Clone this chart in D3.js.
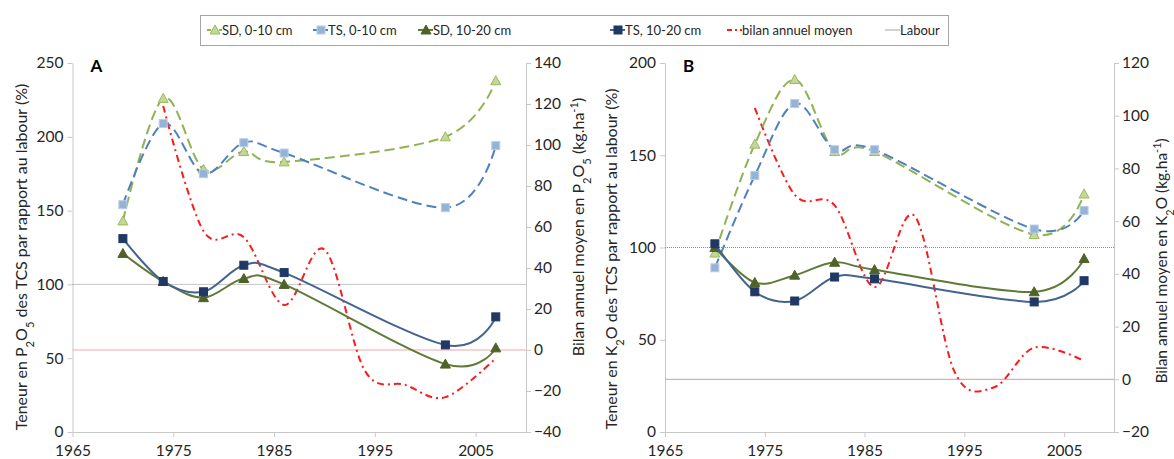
<!DOCTYPE html>
<html>
<head>
<meta charset="utf-8">
<script src="https://cdn.jsdelivr.net/npm/d3@7"></script>
<style>
body { margin: 0; background: #fff; }
svg { font-family: Lato, "Open Sans", sans-serif; }
</style>
</head>
<body>
<div id="chart"></div>
<script>
// annees de prelevement
var years = [1970, 1974, 1978, 1982, 1986, 2002, 2007]
var bilanYears = [1974, 1978, 1982, 1986, 1990, 1994, 1998, 2002, 2007]

// panneau A : P2O5
var A_sd010 = [143, 226, 178, 190, 183, 200, 238]
var A_ts010 = [154, 209, 175, 196, 189, 152, 194]
var A_sd1020 = [121, 102, 91, 104, 100, 46, 57]
var A_ts1020 = [131, 102, 95, 113, 108, 59, 78]
var A_bilan = [119, 58, 55, 22, 49, -10, -17, -23, -4]

// panneau B : K2O
var B_sd010 = [97, 156, 191, 152, 152, 107, 129]
var B_ts010 = [89, 139, 178, 153, 153, 110, 120]
var B_sd1020 = [100, 81, 85, 92, 88, 76, 94]
var B_ts1020 = [102, 76, 71, 84, 83, 70.5, 82]
var B_bilan = [103, 70, 66, 35, 62, 3, -3, 12, 7]

var xTicks = [1965, 1975, 1985, 1995, 2005]
var legendLabels = ['SD, 0-10 cm', 'TS, 0-10 cm', 'SD, 10-20 cm', 'TS, 10-20 cm', 'bilan annuel moyen', 'Labour']

var width = 1174
var height = 459
var axisColor = '#c8c8c8'
var textColor = '#262626'

var svg = d3.select('#chart')
    .append('svg')
    .attr('width', width)
    .attr('height', height)

// styles des series
var styles = [
    {line: '#8fb253', dash: '10,5', w: 2, marker: 'tri', fill: '#c3d69b', stroke: '#9bbb59'},
    {line: '#4f81bd', dash: '10,5', w: 2, marker: 'sq', fill: '#95b3d7', stroke: '#b9cde5'},
    {line: '#5f7a36', dash: null, w: 2, marker: 'tri', fill: '#4f6228', stroke: '#4f6228'},
    {line: '#44638f', dash: null, w: 2, marker: 'sq', fill: '#1f3864', stroke: '#1f3864'}
]
var bilanStyle = {line: '#ff1a1a', dash: '7,4,2,4', w: 2}

var curve = d3.curveCardinal.tension(0)

function drawMarker(g, type, cx, cy, st) {
    if (type === 'sq') {
        g.append('rect')
            .attr('x', cx - 4).attr('y', cy - 4)
            .attr('width', 8).attr('height', 8)
            .attr('fill', st.fill)
            .attr('stroke', st.stroke)
            .attr('stroke-width', 1)
    } else {
        g.append('path')
            .attr('d', 'M' + cx + ',' + (cy - 5) + 'L' + (cx + 5) + ',' + (cy + 4) + 'L' + (cx - 5) + ',' + (cy + 4) + 'Z')
            .attr('fill', st.fill)
            .attr('stroke', st.stroke)
            .attr('stroke-width', 1)
    }
}

// texte avec indices / exposants
function richText(sel, parts, size) {
    parts.forEach(function(p) {
        var t = sel.append('tspan').text(p[0])
        if (p[1] === 'sub') {
            t.attr('baseline-shift', 'sub').attr('font-size', size * 0.7)
        } else if (p[1] === 'sup') {
            t.attr('baseline-shift', 'super').attr('font-size', size * 0.7)
        }
    })
}

function panel(cfg) {
    var x = d3.scaleLinear().domain([1965, 2010]).range([cfg.x0, cfg.x1])
    var y = d3.scaleLinear().domain(cfg.yDom).range([432, 63])
    var y2 = d3.scaleLinear().domain(cfg.y2Dom).range([432, 63])
    var g = svg.append('g')

    // axes
    var ax = g.append('g').attr('transform', 'translate(0,432)')
        .call(d3.axisBottom(x).tickValues(xTicks).tickFormat(d3.format('d')).tickSize(5).tickSizeOuter(0))
    var al = g.append('g').attr('transform', 'translate(' + cfg.x0 + ',0)')
        .call(d3.axisLeft(y).ticks(cfg.yTicks).tickSize(5).tickSizeOuter(0))
    var ar = g.append('g').attr('transform', 'translate(' + cfg.x1 + ',0)')
        .call(d3.axisRight(y2).ticks(cfg.y2Ticks).tickSize(5).tickSizeOuter(0))
    ;[ax, al, ar].forEach(function(a) {
        a.select('.domain').attr('stroke', axisColor)
        a.selectAll('.tick line').attr('stroke', axisColor)
        a.selectAll('.tick text').attr('fill', textColor).attr('font-size', 15.5).attr('font-family', 'Lato, sans-serif')
    })
    ax.selectAll('.tick text').attr('dy', '1.05em')
    al.selectAll('.tick text').attr('x', -9)
    ar.selectAll('.tick text').attr('x', 8)

    // ligne labour (100 %) et zero du bilan
    g.append('line')
        .attr('x1', cfg.x0).attr('x2', cfg.x1)
        .attr('y1', y(100)).attr('y2', y(100))
        .attr('stroke', '#8c8c8c').attr('stroke-width', 1).attr('stroke-dasharray', '1,1')
    g.append('line')
        .attr('x1', cfg.x0).attr('x2', cfg.x1)
        .attr('y1', y2(0)).attr('y2', y2(0))
        .attr('stroke', cfg.zeroColor).attr('stroke-width', 1)

    // bilan annuel moyen
    var lineB = d3.line().curve(curve)
        .x(function(d, i) { return x(bilanYears[i]) })
        .y(function(d) { return y2(d) })
    g.append('path')
        .attr('d', lineB(cfg.bilan))
        .attr('fill', 'none')
        .attr('stroke', bilanStyle.line)
        .attr('stroke-width', bilanStyle.w)
        .attr('stroke-dasharray', bilanStyle.dash)

    // teneurs
    var line = d3.line().curve(curve)
        .x(function(d, i) { return x(years[i]) })
        .y(function(d) { return y(d) })
    cfg.series.forEach(function(s, k) {
        var st = styles[k]
        g.append('path')
            .attr('d', line(s))
            .attr('fill', 'none')
            .attr('stroke', st.line)
            .attr('stroke-width', st.w)
            .attr('stroke-dasharray', st.dash)
        s.forEach(function(d, i) {
            drawMarker(g, st.marker, x(years[i]), y(d), st)
        })
    })

    // lettre du panneau
    g.append('text')
        .attr('x', cfg.x0 + 18).attr('y', 72)
        .attr('font-size', 17).attr('font-weight', 'bold')
        .attr('fill', '#000')
        .text(cfg.letter)

    // titres des axes
    var tl = g.append('text')
        .attr('transform', 'translate(' + cfg.tlx + ',' + cfg.tly + ') rotate(-90)')
        .attr('text-anchor', 'middle')
        .attr('font-size', 16)
        .attr('fill', textColor)
    richText(tl, cfg.leftTitle, 16)
    var tr = g.append('text')
        .attr('transform', 'translate(' + cfg.trx + ',' + cfg.try + ') rotate(-90)')
        .attr('text-anchor', 'middle')
        .attr('font-size', cfg.trSize)
        .attr('fill', textColor)
    richText(tr, cfg.rightTitle, cfg.trSize)
}

panel({
    x0: 72.5, x1: 526, yDom: [0, 250], y2Dom: [-40, 140], yTicks: 5, y2Ticks: 9,
    series: [A_sd010, A_ts010, A_sd1020, A_ts1020], bilan: A_bilan,
    zeroColor: '#f2a7a7', letter: 'A',
    tlx: 27, tly: 257, trx: 584, try: 227, trSize: 16,
    leftTitle: [['Teneur en P'], ['2', 'sub'], ['O'], ['5', 'sub'], [' des TCS par rapport au labour (%)']],
    rightTitle: [['Bilan annuel moyen  en P'], ['2', 'sub'], ['O'], ['5', 'sub'], [' (kg.ha'], ['-1', 'sup'], [')']]
})

panel({
    x0: 665, x1: 1114, yDom: [0, 200], y2Dom: [-20, 120], yTicks: 4, y2Ticks: 7,
    series: [B_sd010, B_ts010, B_sd1020, B_ts1020], bilan: B_bilan,
    zeroColor: '#d49a9a', letter: 'B',
    tlx: 617, tly: 259, trx: 1167, try: 261, trSize: 15.5,
    leftTitle: [['Teneur en K'], ['2', 'sub'], ['O des TCS par rapport au labour (%)']],
    rightTitle: [['Bilan annuel moyen  en K'], ['2', 'sub'], ['O (kg.ha'], ['-1', 'sup'], [')']]
})

// legende
var leg = svg.append('g')
leg.append('rect')
    .attr('x', 200.5).attr('y', 15.5)
    .attr('width', 748).attr('height', 30)
    .attr('fill', '#fff').attr('stroke', '#a6a6a6').attr('stroke-width', 1)
var legX = [207, 313, 418, 610, 727, 885]
legendLabels.forEach(function(lab, i) {
    var lx = legX[i]
    var ly = 30
    if (i < 4) {
        var st = styles[i]
        leg.append('line')
            .attr('x1', lx).attr('x2', lx + 15)
            .attr('y1', ly).attr('y2', ly)
            .attr('stroke', st.line).attr('stroke-width', 2)
            .attr('stroke-dasharray', st.dash ? '4,2' : null)
        drawMarker(leg, st.marker, lx + 8, ly, st)
    } else if (i === 4) {
        leg.append('line')
            .attr('x1', lx).attr('x2', lx + 15)
            .attr('y1', ly).attr('y2', ly)
            .attr('stroke', bilanStyle.line).attr('stroke-width', 2)
            .attr('stroke-dasharray', '5,3,2,3')
    } else {
        leg.append('line')
            .attr('x1', lx).attr('x2', lx + 15)
            .attr('y1', ly).attr('y2', ly)
            .attr('stroke', '#a6a6a6').attr('stroke-width', 1)
    }
    leg.append('text')
        .attr('x', lx + 15).attr('y', ly + 4.5)
        .attr('font-size', 13)
        .attr('fill', textColor)
        .text(lab)
})
</script>
</body>
</html>
